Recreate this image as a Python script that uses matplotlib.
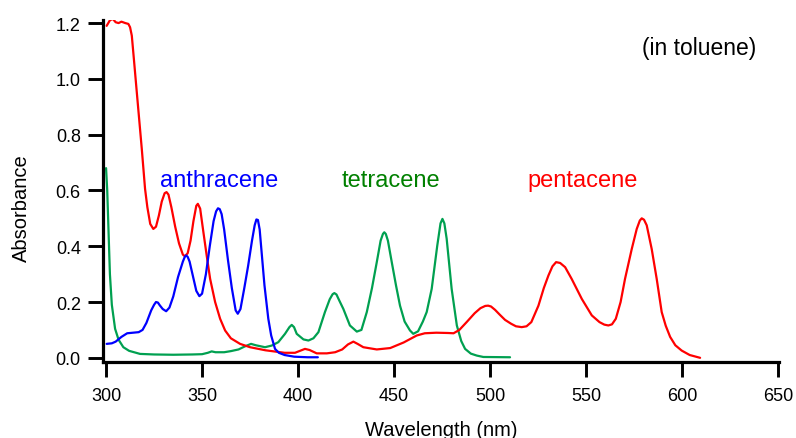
import matplotlib
matplotlib.use('Agg')
import matplotlib.pyplot as plt

plt.rcParams['font.family'] = ['Liberation Sans', 'DejaVu Sans']

# anthracene (blue)
anth_wl = [300.3, 303, 305, 308, 311, 314, 317, 319, 321, 323.5, 325, 326, 327, 328, 329.5, 331.3,
           333, 335, 337.5, 340, 341, 341.7, 342.5, 343.5, 345, 347, 348.6, 350, 352, 354, 356, 357.3,
           358.3, 359.2, 360.2, 361.5, 363.5, 365.5, 367.5, 368.6, 370, 372, 374, 376, 377.4, 378.3,
           379.1, 380, 381, 382.5, 384.5, 386, 388, 390, 393, 398, 405, 410.3]
anth_abs = [0.05, 0.052, 0.058, 0.075, 0.088, 0.09, 0.092, 0.1, 0.125, 0.17, 0.19, 0.2, 0.198, 0.188, 0.175, 0.167,
            0.18, 0.22, 0.29, 0.345, 0.362, 0.367, 0.362, 0.345, 0.3, 0.24, 0.221, 0.23, 0.3, 0.4, 0.49, 0.525,
            0.536, 0.533, 0.515, 0.46, 0.35, 0.25, 0.17, 0.158, 0.175, 0.25, 0.33, 0.42, 0.475, 0.496,
            0.494, 0.46, 0.38, 0.26, 0.14, 0.08, 0.032, 0.018, 0.01, 0.004, 0.002, 0.002]

# tetracene (green)
tetra_wl = [300, 300.6, 301.3, 302, 303, 304.7, 306.5, 309, 312, 317.7, 325, 335, 345, 350,
            353, 355, 357, 361.5, 365, 369, 372, 375.5, 378, 382.8, 386.3, 389.7, 393.2, 395.5,
            396.7, 397.9, 399.3, 402.8, 405.4, 408, 410.6, 414, 416.5, 418, 418.9, 420, 421.5, 423.6, 427,
            430.6, 433, 435.8, 438.5, 441, 443, 444.2, 444.9, 445.7, 446.8, 448.8, 451, 453.1, 455.5,
            458.3, 460, 462.5, 465, 467, 469.6, 472.5, 474.2, 475.2, 476.2, 477.4, 480, 482.7, 485, 487,
            490, 493.1, 496.5, 510.4]
tetra_abs = [0.68, 0.6, 0.45, 0.3, 0.19, 0.104, 0.065, 0.038, 0.025, 0.014, 0.012, 0.011, 0.012, 0.013,
             0.018, 0.023, 0.02, 0.02, 0.024, 0.03, 0.04, 0.05, 0.045, 0.038, 0.044, 0.056, 0.086, 0.11,
             0.118, 0.11, 0.086, 0.066, 0.062, 0.07, 0.092, 0.164, 0.21, 0.228, 0.232, 0.227, 0.205, 0.175, 0.116,
             0.094, 0.1, 0.164, 0.25, 0.343, 0.42, 0.444, 0.45, 0.444, 0.42, 0.343, 0.26, 0.187, 0.13,
             0.098, 0.086, 0.095, 0.13, 0.164, 0.247, 0.402, 0.482, 0.498, 0.482, 0.427, 0.247, 0.116, 0.06, 0.032,
             0.015, 0.008, 0.003, 0.002]

# pentacene (red)
penta_wl = [300.3, 302, 303.5, 305, 306.5, 308, 310, 311.6, 312.5, 313.4, 314.5, 316, 318.6,
            320.3, 321.5, 323, 324.6, 326, 327.5, 329, 330.5, 331.5, 332.5, 334, 336, 338, 340,
            341.1, 342.5, 344, 345.5, 347, 347.8, 349, 350.7, 352.4, 354.2, 356.8, 359.4, 362,
            365, 369.8, 375, 383, 393, 398.4, 401, 403.6, 406, 409.7, 415, 419.3, 423, 426,
            428.8, 431, 434, 441, 448, 455, 461.8, 466, 472, 478, 481, 484, 487.8, 492, 495, 497.5,
            499, 500.5, 502.6, 505, 507.8, 511, 513.5, 516.5, 519, 521.5, 525.2, 528, 530.4, 532.5, 534.4, 536.5,
            539.1, 542.5, 547.8, 553, 557, 559.5, 561.6, 563.5, 565.5, 568, 570.3, 573.8, 576.4, 578, 579, 580.2,
            581.6, 584.2, 586.8, 589.4, 591.5, 593.8, 596.5, 599.8, 604, 609.4]
penta_abs = [1.19, 1.21, 1.215, 1.203, 1.2, 1.205, 1.2, 1.197, 1.185, 1.155, 1.07, 0.952, 0.749,
             0.606, 0.54, 0.48, 0.462, 0.47, 0.51, 0.56, 0.59, 0.594, 0.585, 0.54, 0.47, 0.41, 0.37,
             0.364, 0.375, 0.42, 0.49, 0.545, 0.552, 0.535, 0.45, 0.367, 0.283, 0.2, 0.14, 0.098,
             0.07, 0.05, 0.038, 0.027, 0.018, 0.018, 0.025, 0.032, 0.028, 0.016, 0.016, 0.02, 0.03, 0.048,
             0.058, 0.05, 0.038, 0.03, 0.035, 0.055, 0.08, 0.088, 0.09, 0.089, 0.088, 0.1, 0.128, 0.16, 0.178,
             0.186, 0.187, 0.184, 0.172, 0.155, 0.136, 0.122, 0.113, 0.11, 0.113, 0.128, 0.187, 0.25, 0.295, 0.328, 0.343, 0.34,
             0.325, 0.283, 0.211, 0.152, 0.128, 0.119, 0.116, 0.12, 0.14, 0.2, 0.283, 0.39, 0.462, 0.492, 0.5, 0.495,
             0.475, 0.39, 0.283, 0.164, 0.115, 0.075, 0.045,
             0.026, 0.01, 0.0]

xticks = [300, 350, 400, 450, 500, 550, 600, 650]
yticks = [0.0, 0.2, 0.4, 0.6, 0.8, 1.0, 1.2]

fig = plt.figure(figsize=(7.96, 4.39), dpi=100)
ax = fig.add_axes([103/796, 1 - 363/439, 676/796, 342/439])

green = '#00a050'
style = dict(lw=1.6, solid_joinstyle='round', solid_capstyle='round')
ax.plot(tetra_wl, tetra_abs, color=green, **style)
ax.plot(penta_wl, penta_abs, color='#ff0000', **style)
ax.plot(anth_wl, anth_abs, color='#0000ff', **style)

ax.set_xlim(298.4, 650.5)
ax.set_ylim(-0.015, 1.211)
ax.set_xticks(xticks)
ax.set_yticks(yticks)
ax.set_yticklabels([f'{v:.1f}' for v in yticks])

for side in ['top', 'right']:
    ax.spines[side].set_visible(False)
for side in ['left', 'bottom']:
    ax.spines[side].set_linewidth(2.3)
ax.tick_params(axis='x', direction='out', length=11, width=2.1, labelsize=13, pad=7)
ax.tick_params(axis='y', direction='out', length=11, width=2.1, labelsize=13, pad=5)

ax.set_xlabel('Wavelength (nm)', fontsize=14.5)
ax.set_ylabel('Absorbance', fontsize=14.5)
ax.xaxis.set_label_coords(0.5, -0.196)
ax.xaxis.label.set_va('center')
ax.yaxis.set_label_coords(-0.120, 0.453)
ax.yaxis.label.set_va('center')

ax.text(328.1, 0.616, 'anthracene', color='#0000ff', fontsize=17, va='baseline', ha='left')
ax.text(422.9, 0.616, 'tetracene', color='#008000', fontsize=17, va='baseline', ha='left')
ax.text(519.3, 0.616, 'pentacene', color='#ff0000', fontsize=17, va='baseline', ha='left')
ax.text(579.2, 1.09, '(in toluene)', color='black', fontsize=16.5, va='baseline', ha='left')

fig.savefig('out.png', dpi=100)
